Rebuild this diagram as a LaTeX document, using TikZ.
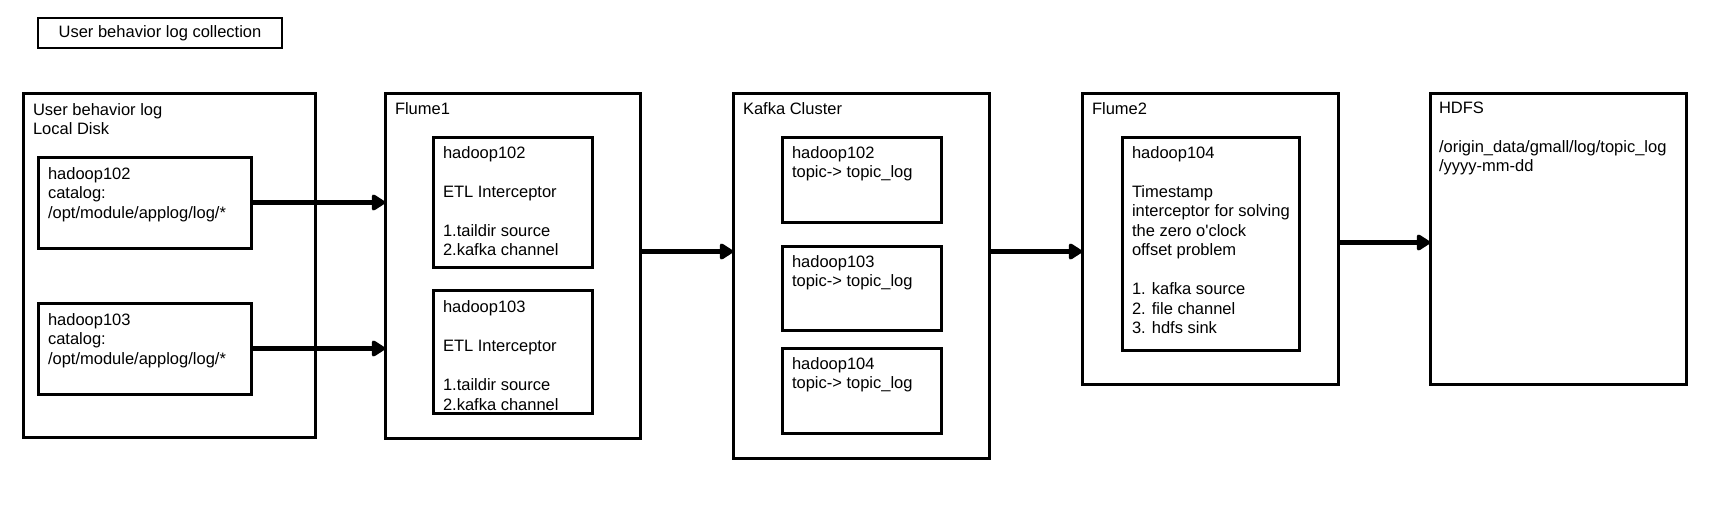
\documentclass[tikz,border=0pt]{standalone}
\usepackage{fontspec}
\setmainfont{Liberation Sans}[Ligatures=TeXOff]
\usetikzlibrary{arrows.meta}
\begin{document}
\begin{tikzpicture}[x=1pt,y=-1pt,
  frame/.style={draw=black, line width=3pt, inner sep=0pt, outer sep=0pt, anchor=north west},
  txt/.style={anchor=north west, inner sep=0pt, outer sep=0pt, align=left, font=\fontsize{16.5}{19.5}\selectfont},
  flow/.style={line width=5pt, -{Triangle[length=15pt,width=18pt,round]}, shorten <=2pt}
]
\path[use as bounding box] (0,0) rectangle (1725,517);

% title
\node[draw=black, line width=2.6pt, minimum width=244pt, minimum height=30pt, inner sep=0pt,
      font=\fontsize{16.5}{19.5}\selectfont] (title) at (160,33) {User behavior log collection};

% local disk
\node[frame, minimum width=292pt, minimum height=344pt] (disk) at (23,93) {};
\node[txt] (diskT) at (33,103.2) {User behavior log\\Local Disk};
\node[frame, minimum width=213pt, minimum height=91pt] (diskA) at (38,157) {};
\node[txt] (diskAT) at (48,167.2) {hadoop102\\catalog:\\/opt/module/applog/log/*};
\node[frame, minimum width=213pt, minimum height=91pt] (diskB) at (38,303) {};
\node[txt] (diskBT) at (48,313.2) {hadoop103\\catalog:\\/opt/module/applog/log/*};

% flume1
\node[frame, minimum width=255pt, minimum height=345pt] (flume1) at (385,93) {};
\node[txt] (flume1T) at (395,102.2) {Flume1};
\node[frame, minimum width=159pt, minimum height=130pt] (f1a) at (433,137) {};
\node[txt] (f1aT) at (443,146.5) {hadoop102\\[19.5pt]ETL Interceptor\\[19.5pt]1.taildir source\\2.kafka channel};
\node[frame, minimum width=159pt, minimum height=123pt] (f1b) at (433,290) {};
\node[txt] (f1bT) at (443,300.9) {hadoop103\\[19.5pt]ETL Interceptor\\[19.5pt]1.taildir source\\2.kafka channel};

% kafka
\node[frame, minimum width=256pt, minimum height=365pt] (kafka) at (733,93) {};
\node[txt] (kafkaT) at (743,102.2) {Kafka Cluster};
\node[frame, minimum width=159pt, minimum height=85pt] (k1) at (782,137) {};
\node[txt] (k1T) at (792,146.5) {hadoop102\\topic-> topic\_log};
\node[frame, minimum width=159pt, minimum height=84pt] (k2) at (782,246) {};
\node[txt] (k2T) at (792,255.5) {hadoop103\\topic-> topic\_log};
\node[frame, minimum width=159pt, minimum height=85pt] (k3) at (782,348) {};
\node[txt] (k3T) at (792,357.5) {hadoop104\\topic-> topic\_log};

% flume2
\node[frame, minimum width=256pt, minimum height=291pt] (flume2) at (1082,93) {};
\node[txt] (flume2T) at (1092,102.2) {Flume2};
\node[frame, minimum width=177pt, minimum height=213pt] (f2a) at (1122,137) {};
\node[txt] (f2aT) at (1132,146.2) {hadoop104\\[19.5pt]Timestamp\\interceptor for solving\\the zero o'clock\\offset problem\\[19.5pt]1. kafka source\\2. file channel\\3. hdfs sink};

% hdfs
\node[frame, minimum width=256pt, minimum height=291pt] (hdfs) at (1430,93) {};
\node[txt] (hdfsT) at (1439,101.7) {HDFS\\[19.5pt]/origin\_data/gmall/log/topic\_log\\/yyyy-mm-dd};

% arrows
\draw[flow] (diskA.east) -- (diskA.east -| flume1.west);
\draw[flow] (diskB.east) -- (diskB.east -| flume1.west);
\coordinate (c3) at ([yshift=14pt]flume1.east);
\draw[flow] (c3) -- (c3 -| kafka.west);
\coordinate (c4) at ([yshift=24pt]kafka.east);
\draw[flow] (c4) -- (c4 -| flume2.west);
\coordinate (c5) at ([yshift=-4pt]flume2.east);
\draw[flow] (c5) -- (c5 -| hdfs.west);
\end{tikzpicture}
\end{document}
